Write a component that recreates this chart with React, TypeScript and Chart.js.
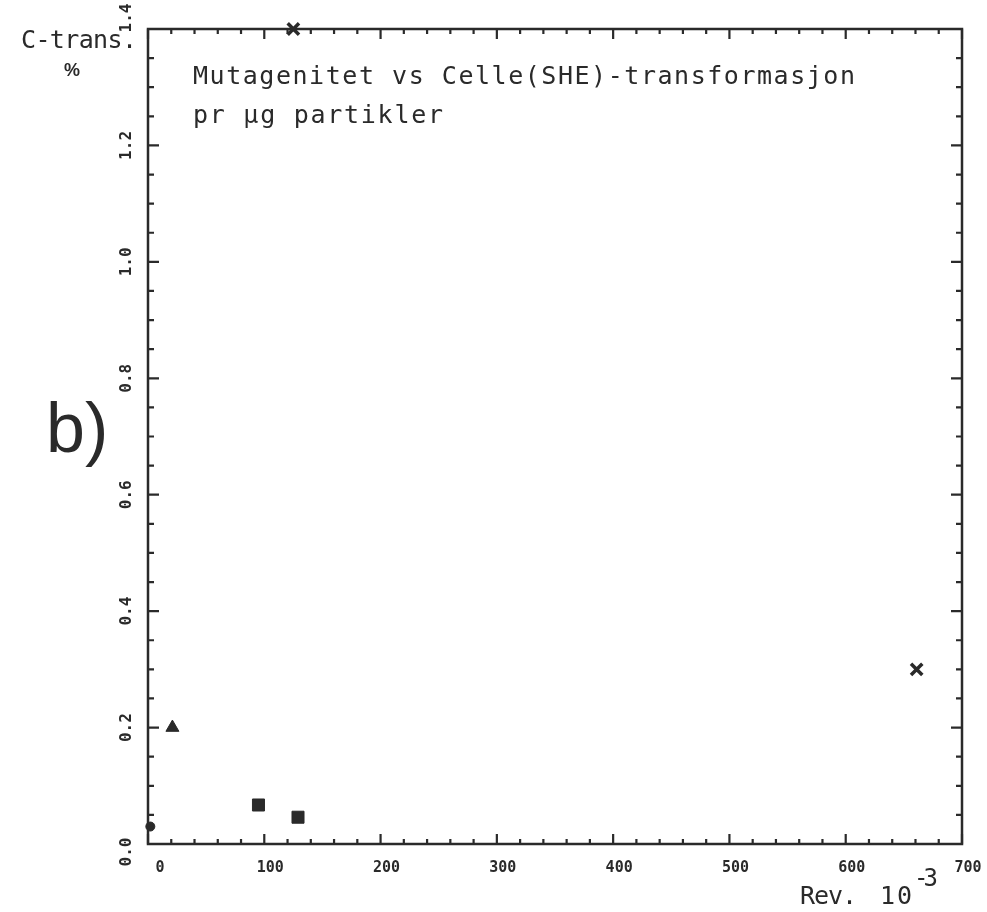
import React, { useEffect, useRef } from "react";
import { Chart, registerables } from "chart.js";

Chart.register(...registerables);

// ---- data ----
const circleX = [2];
const circleY = [0.03];
const triangleX = [21];
const triangleY = [0.2];
const squareX = [95, 129];
const squareY = [0.067, 0.046];
const crossX = [125, 661];
const crossY = [1.4, 0.3];

const xTickValues = [0, 100, 200, 300, 400, 500, 600, 700];
const xTickLabels = ["0", "100", "200", "300", "400", "500", "600", "700"];
const yTickValues = [0, 0.2, 0.4, 0.6, 0.8, 1.0, 1.2, 1.4];
const yTickLabels = ["0.0", "0.2", "0.4", "0.6", "0.8", "1.0", "1.2", "1.4"];

const titleLine1 = "Mutagenitet vs Celle(SHE)-transformasjon";
const titleLine2 = "pr µg partikler";
const yAxisTitle = "C-trans.";
const yAxisUnit = "%";
const xAxisTitle = "Rev.";
const xAxisBase = "10";
const xAxisExp = "-3";
const panelLabel = "b)";

const INK = "#2a2a2a";
const MONO = '"DejaVu Sans Mono", "Liberation Mono", monospace';

function toPoints(xs: number[], ys: number[]) {
  return xs.map((x, i) => ({ x, y: ys[i] }));
}

function drawSpaced(
  ctx: CanvasRenderingContext2D,
  text: string,
  x: number,
  y: number,
  font: string,
  targetWidth?: number
) {
  ctx.save();
  ctx.font = font;
  (ctx as any).letterSpacing = "0px";
  if (targetWidth) {
    const w = ctx.measureText(text).width;
    const sp = (targetWidth - w) / Math.max(1, text.length - 1);
    (ctx as any).letterSpacing = sp + "px";
  }
  ctx.fillText(text, x, y);
  ctx.restore();
}

const framePlugin = {
  id: "framePlugin",
  beforeDraw(chart: any) {
    const ctx = chart.ctx as CanvasRenderingContext2D;
    ctx.save();
    ctx.fillStyle = "#ffffff";
    ctx.fillRect(0, 0, chart.width, chart.height);
    ctx.restore();
  },
  beforeDatasetsDraw(chart: any) {
    const ctx = chart.ctx as CanvasRenderingContext2D;
    const { left, right, top, bottom } = chart.chartArea;
    const xs = chart.scales.x;
    const ys = chart.scales.y;
    ctx.save();
    ctx.strokeStyle = INK;
    ctx.lineWidth = 2.5;
    ctx.strokeRect(left, top, right - left, bottom - top);

    ctx.lineWidth = 2.2;
    // x ticks (bottom and top, pointing inward)
    for (let v = 0; v <= 700; v += 20) {
      const px = xs.getPixelForValue(v);
      const len = v % 100 === 0 ? 10 : 5;
      ctx.beginPath();
      ctx.moveTo(px, bottom);
      ctx.lineTo(px, bottom - len);
      ctx.moveTo(px, top);
      ctx.lineTo(px, top + len);
      ctx.stroke();
    }
    // y ticks (left and right, pointing inward)
    for (let i = 0; i <= 28; i++) {
      const py = ys.getPixelForValue(i * 0.05);
      const len = i % 4 === 0 ? 11 : 6;
      ctx.beginPath();
      ctx.moveTo(left, py);
      ctx.lineTo(left + len, py);
      ctx.moveTo(right, py);
      ctx.lineTo(right - len, py);
      ctx.stroke();
    }

    ctx.fillStyle = INK;
    // x tick labels
    ctx.font = "bold 15px " + MONO;
    ctx.textAlign = "center";
    ctx.textBaseline = "middle";
    xTickValues.forEach((v, i) => {
      const px = xs.getPixelForValue(v);
      const off = v === 0 ? 12 : 6;
      ctx.fillText(xTickLabels[i], px + off, bottom + 24);
    });
    // y tick labels (rotated)
    ctx.font = "bold 16px " + MONO;
    yTickValues.forEach((v, i) => {
      let py = ys.getPixelForValue(v);
      if (i === yTickValues.length - 1) py -= 11;
      if (i === 0) py += 8;
      ctx.save();
      ctx.translate(left - 21, py);
      ctx.rotate(-Math.PI / 2);
      ctx.fillText(yTickLabels[i], 0, 0);
      ctx.restore();
    });
    ctx.restore();
  },
  afterDraw(chart: any) {
    const ctx = chart.ctx as CanvasRenderingContext2D;
    ctx.save();
    ctx.fillStyle = INK;
    ctx.textAlign = "left";
    ctx.textBaseline = "alphabetic";
    const f25 = "25px " + MONO;
    drawSpaced(ctx, yAxisTitle, 21, 48, f25, 116);
    ctx.textAlign = "center";
    ctx.font = 'bold 18px "Liberation Sans", Arial, sans-serif';
    ctx.fillText(yAxisUnit, 72, 76);
    ctx.textAlign = "left";
    drawSpaced(ctx, titleLine1, 193, 84, f25, 662);
    drawSpaced(ctx, titleLine2, 193, 123, f25, 250);
    drawSpaced(ctx, xAxisTitle, 800, 904, f25, 57);
    drawSpaced(ctx, xAxisBase, 880, 904, f25, 32);
    drawSpaced(ctx, xAxisExp, 914, 886, "24px " + MONO, 24);
    ctx.font = '70px "Liberation Sans", Arial, sans-serif';
    ctx.fillText(panelLabel, 46, 452);
    ctx.restore();
  },
};

export default function App() {
  const ref = useRef<HTMLCanvasElement | null>(null);

  useEffect(() => {
    document.body.style.margin = "0";
    const canvas = ref.current;
    if (!canvas) return;
    const common = {
      backgroundColor: INK,
      borderColor: INK,
      showLine: false,
      clip: false as any,
    };
    const chart = new Chart(canvas, {
      type: "scatter",
      data: {
        datasets: [
          {
            ...common,
            label: "circle",
            data: toPoints(circleX, circleY),
            pointStyle: "circle",
            pointRadius: 4.5,
            borderWidth: 1,
          },
          {
            ...common,
            label: "triangle",
            data: toPoints(triangleX, triangleY),
            pointStyle: "triangle",
            pointRadius: 7.5,
            borderWidth: 1,
          },
          {
            ...common,
            label: "square",
            data: toPoints(squareX, squareY),
            pointStyle: "rect",
            pointRadius: 8.5,
            borderWidth: 1,
          },
          {
            ...common,
            label: "cross",
            data: toPoints(crossX, crossY),
            pointStyle: "crossRot",
            pointRadius: 8,
            borderWidth: 3.5,
          },
        ],
      },
      options: {
        responsive: false,
        animation: false,
        devicePixelRatio: 1,
        layout: { padding: { left: 148, right: 25, top: 29, bottom: 68 } },
        plugins: {
          legend: { display: false },
          tooltip: { enabled: false },
          title: { display: false },
        },
        scales: {
          x: { type: "linear", min: 0, max: 700, display: false },
          y: { type: "linear", min: 0, max: 1.4, display: false },
        },
      },
      plugins: [framePlugin],
    });
    return () => chart.destroy();
  }, []);

  return (
    <div style={{ width: 987, height: 912 }}>
      <canvas ref={ref} width={987} height={912} />
    </div>
  );
}
